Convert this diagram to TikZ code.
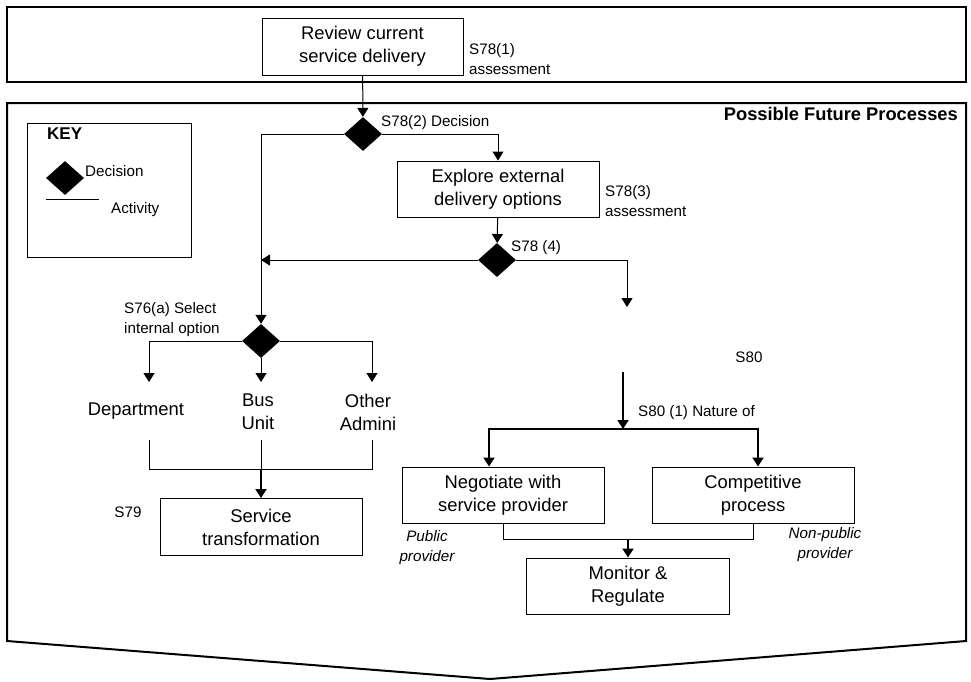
\documentclass[tikz,border=0pt]{standalone}
\usepackage{fontspec}
\setmainfont{Liberation Sans}
\usetikzlibrary{shapes.geometric,arrows.meta,positioning}

\begin{document}
\begin{tikzpicture}[x=1pt,y=-1pt,
    activity/.style={draw,line width=1pt,minimum width=202pt,minimum height=56pt,
        inner sep=0pt,align=center,font=\fontsize{18.4}{23}\selectfont},
    decision/.style={diamond,fill=black,minimum width=38pt,minimum height=34pt,inner sep=0pt},
    lbl/.style={inner sep=0pt,align=left,font=\fontsize{15.2}{20}\selectfont},
    note/.style={inner sep=0pt,align=center,font=\fontsize{15.2}{20}\selectfont\itshape},
    option/.style={inner sep=0pt,align=center,font=\fontsize{18.4}{23}\selectfont},
    flow/.style={line width=1pt,-{Triangle[length=9pt,width=11pt]}},
    flowB/.style={line width=2pt,-{Triangle[length=9pt,width=11pt]}},
]
\useasboundingbox (0,0) rectangle (971,681);

% Current assessment
\draw[line width=1.5pt] (7,7) rectangle (966,82);
\node[activity,minimum width=201pt,minimum height=57pt] (review) at (362.5,46.5) {Review current\\service delivery};
\node[lbl,anchor=west] (s781) at (469,59) {S78(1)\\assessment};

% Possible future processes
\draw[line width=2pt] (7,103) -- (966,103) -- (966,641) -- (490,679) -- (7,641) -- cycle;
\node[inner sep=0pt,anchor=east,font=\fontsize{18.3}{22}\selectfont\bfseries] (title) at (958,114) {Possible Future Processes};

% Key
\draw[line width=1pt] (27,123) rectangle (191,257);
\node[inner sep=0pt,anchor=west,font=\fontsize{17}{20}\selectfont\bfseries] (key) at (47,134) {KEY};
\node[decision] (keydec) at (65,178) {};
\node[lbl,anchor=west] (keydectxt) at (85,171) {Decision};
\coordinate (keyA) at (46,199);
\coordinate (keyB) at (99,199);
\draw[line width=1pt] (keyA) -- (keyB);
\node[lbl,anchor=west] (keyacttxt) at (111,210) {Activity};

% Decisions on delivery
\node[decision] (dec1) at (363,134) {};
\node[lbl,anchor=west] (s782) at (381,123) {S78(2) Decision};
\node[activity] (explore) at (498,189) {Explore external\\delivery options};
\node[lbl,anchor=west] (s783) at (605,201) {S78(3)\\assessment};
\node[decision] (dec2) at (497,260) {};
\node[lbl,anchor=west] (s784) at (511,248) {S78 (4)};
\node[decision] (dec3) at (261,341) {};
\node[lbl,anchor=west] (s76a) at (124,320) {S76(a) Select\\internal option};

\draw[flow] (review) -- (dec1);
\draw[flow] (dec1.west) -| (dec3.north);
\draw[flow] (dec1.east) -| (explore.north);
\draw[flow] (explore) -- (dec2);
\draw[flow] (dec2.west) -- (dec2.west -| dec3.north);
\coordinate (s78end) at (627,307);
\draw[flow] (dec2.east) -| (s78end);

% Internal options
\node[option] (dept) at (136,411) {Department};
\node[option] (bus) at (258,412) {Bus\\Unit};
\node[option] (other) at (368,412) {Other\\Admini};
\coordinate (optL) at (149,382);
\coordinate (optM) at (261,382);
\coordinate (optR) at (372,382);
\draw[flow] (dec3.west) -| (optL);
\draw[flow] (dec3.south) -- (optM);
\draw[flow] (dec3.east) -| (optR);
\coordinate (lowL) at (149,440);
\coordinate (lowM) at (261,440);
\coordinate (lowR) at (372,440);
\coordinate (lowJ) at (261,469);
\node[activity,minimum height=57pt] (service) at (261,527) {Service\\transformation};
\node[lbl] (s79) at (128,512) {S79};
\draw[line width=1pt] (lowL) |- (lowJ) -| (lowR);
\draw[line width=1pt] (lowM) -- (lowJ);
\draw[flowB] (lowJ) -- (service);

% External options
\node[lbl] (s80) at (749,357) {S80};
\coordinate (s80top) at (623,372);
\coordinate (split) at (623,429);
\node[lbl,anchor=west] (s801) at (638,413) {S80 (1) Nature of};
\node[activity] (negot) at (503,495) {Negotiate with\\service provider};
\node[activity] (compet) at (753,495) {Competitive\\process};
\node[activity,minimum width=203pt] (monitor) at (628,586) {Monitor \&\\Regulate};
\node[note] (public) at (427,548) {Public\\provider};
\node[note] (nonpublic) at (825,545) {Non-public\\provider};
\draw[flowB] (s80top) -- (split);
\draw[flowB] (split) -| ([xshift=-14pt]negot.north);
\draw[flowB] (split) -| ([xshift=5pt]compet.north);
\coordinate (join) at (628,539);
\draw[line width=1pt] (negot.south) |- (join) -| (compet.south);
\draw[flowB] (join) -- (monitor);

\end{tikzpicture}
\end{document}
